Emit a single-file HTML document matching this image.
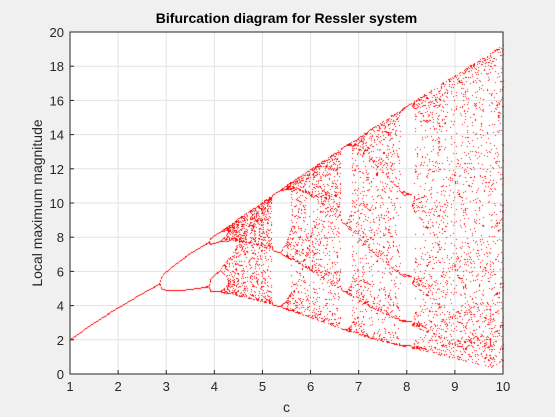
<!DOCTYPE html>
<html><head><meta charset="utf-8"><style>
html,body{margin:0;padding:0;background:#f0f0f0;}
#wrap{position:relative;width:555px;height:417px;font-family:"Liberation Sans",sans-serif;}
canvas{position:absolute;left:0;top:0;}
svg{position:absolute;left:0;top:0;}
</style></head><body>
<div id="wrap">
<svg id="axes" width="555" height="417"></svg>
<canvas id="cv" width="555" height="417"></canvas>
<svg id="over" width="555" height="417"></svg>
</div>
<script>
// system parameters and sampling
const paramA = [0.2];
const paramB = [0.2];
const cRange = [1, 10];
const cCount = [451];
const maximaPerC = [24];
const xTicks = [1,2,3,4,5,6,7,8,9,10];
const yTicks = [0,2,4,6,8,10,12,14,16,18,20];
const xDomain = [1, 10];
const yDomain = [0, 20];

const L=70,R=503,T=32,B=374;
const sx=v=>L+(v-xDomain[0])/(xDomain[1]-xDomain[0])*(R-L);
const sy=v=>B-(v-yDomain[0])/(yDomain[1]-yDomain[0])*(B-T);
const NS="http://www.w3.org/2000/svg";
function mk(p,tag,attrs){const e=document.createElementNS(NS,tag);for(const k in attrs)e.setAttribute(k,attrs[k]);p.appendChild(e);return e;}
const ax=document.getElementById('axes');
const bg=mk(ax,'rect',{x:L,y:T,width:R-L,height:B-T,fill:'#fff'});


xTicks.forEach(t=>{const g=mk(ax,'line',{x1:sx(t),x2:sx(t),y1:T,y2:B,stroke:'#e3e3e3','stroke-width':1});

});
yTicks.forEach(t=>{const g=mk(ax,'line',{x1:L,x2:R,y1:sy(t),y2:sy(t),stroke:'#e3e3e3','stroke-width':1});

});
const ov=document.getElementById('over');
const fr=mk(ov,'path',{d:`M${L},${T}H${R}V${B}H${L}Z`,fill:'none',stroke:'#262626','stroke-width':1});


xTicks.forEach(t=>{
 const l=mk(ov,'line',{x1:sx(t),x2:sx(t),y1:B,y2:B-4,stroke:'#262626'});
 
 
 const tx=mk(ov,'text',{x:sx(t),y:B+17,'text-anchor':'middle','font-size':13,fill:'#262626','font-family':'Liberation Sans,sans-serif'});
 tx.textContent=t;
 
 
});
yTicks.forEach(t=>{
 const l=mk(ov,'line',{x1:L,x2:L+4,y1:sy(t),y2:sy(t),stroke:'#262626'});
 
 
 const tx=mk(ov,'text',{x:L-6,y:sy(t)+5,'text-anchor':'end','font-size':13,fill:'#262626','font-family':'Liberation Sans,sans-serif'});
 tx.textContent=t;
 
 
});
const ti=mk(ov,'text',{x:(L+R)/2,y:23,'text-anchor':'middle','font-size':14,'font-weight':'bold',fill:'#000','font-family':'Liberation Sans,sans-serif'});
ti.textContent='Bifurcation diagram for Ressler system';


const xl=mk(ov,'text',{x:(L+R)/2,y:412,'text-anchor':'middle','font-size':14,fill:'#262626','font-family':'Liberation Sans,sans-serif'});
xl.textContent='c';


const yl=mk(ov,'text',{x:0,y:0,'text-anchor':'middle','font-size':14,fill:'#262626','font-family':'Liberation Sans,sans-serif',transform:`translate(42,${(T+B)/2}) rotate(-90)`});
yl.textContent='Local maximum magnitude';



// simulate Rossler system, collect local maxima of x
const ctx=document.getElementById('cv').getContext('2d');
ctx.beginPath();ctx.rect(L,T,R-L+1,B-T);ctx.clip();
ctx.fillStyle='#ff0000';
const a=paramA[0],b=paramB[0];
let s=[1,1,0];
function f(v,c){return [-v[1]-v[2], v[0]+a*v[1], b+v[2]*(v[0]-c)];}
function rk(v,c,h){
 const k1=f(v,c);
 const k2=f([v[0]+h/2*k1[0],v[1]+h/2*k1[1],v[2]+h/2*k1[2]],c);
 const k3=f([v[0]+h/2*k2[0],v[1]+h/2*k2[1],v[2]+h/2*k2[2]],c);
 const k4=f([v[0]+h*k3[0],v[1]+h*k3[1],v[2]+h*k3[2]],c);
 return [v[0]+h/6*(k1[0]+2*k2[0]+2*k3[0]+k4[0]),v[1]+h/6*(k1[1]+2*k2[1]+2*k3[1]+k4[1]),v[2]+h/6*(k1[2]+2*k2[2]+2*k3[2]+k4[2])];
}
const h=0.02;
for(let i=0;i<cCount[0];i++){
 const c=cRange[0]+(cRange[1]-cRange[0])*i/(cCount[0]-1);
 for(let t=0;t<150/h;t++) s=rk(s,c,h);
 let p2=s[0]; s=rk(s,c,h); let p1=s[0]; let n=0;
 for(let t=0;t<600/h && n<maximaPerC[0];t++){
  s=rk(s,c,h);
  if(p1>p2 && p1>s[0]){
   const d=(p2-2*p1+s[0]); const off=d!==0?0.5*(p2-s[0])/d:0;
   const m=p1-0.25*(p2-s[0])*off;
   ctx.fillRect(Math.round(sx(c)),Math.round(sy(Math.abs(m))),1,1);
   n++;
  }
  p2=p1;p1=s[0];
 }
}
</script>
</body></html>
